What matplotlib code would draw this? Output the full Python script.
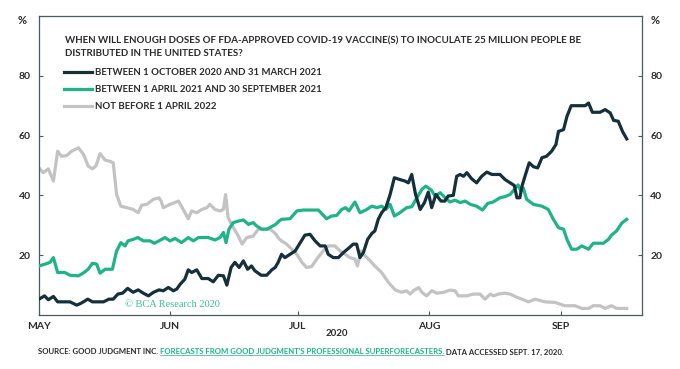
import matplotlib
matplotlib.use('Agg')
import matplotlib.pyplot as plt
import matplotlib.dates as mdates
from matplotlib.lines import Line2D
import numpy as np

# ---------------- data (day offsets since 1 May 2020, % probability) ----------------
dark_days = [0, 1.3, 2.2, 3.4, 4.4, 7.3, 8.9, 10.0, 11.5, 12.6, 15.2, 16.5, 17.5, 18.6, 19.7,
             20.9, 22.2, 23.4, 24.6, 25.8, 27.0, 28.3, 29.3, 30.5, 31.7, 32.5, 33.3, 34.4, 35.2,
             36.0, 37.2, 38.4, 39.9, 41.1, 42.3, 43.5, 44.3, 45.3, 46.2, 47.2, 48.2, 49.2, 50.1,
             50.9, 52.4, 53.7, 54.9, 55.7, 56.4, 57.2, 58.0, 59.2, 60.4, 61.6, 62.7, 63.9, 65.1,
             66.3, 67.5, 68.2, 69.4, 70.6, 71.8, 72.9, 74.1, 74.9, 75.7, 76.5, 77.5, 78.5, 79.2,
             80.0, 80.8, 81.8, 82.8, 83.8, 85.1, 86.3, 87.1, 87.9, 88.8, 89.9, 90.9, 91.8, 92.6,
             93.6, 94.8, 95.7, 96.5, 97.7, 98.5, 99.3, 100.1, 100.9, 102.0, 103.2, 104.4, 105.6,
             106.8, 108.7, 109.9, 111.1, 112.1, 112.7, 113.4, 113.9, 114.6, 115.6, 116.6, 117.6,
             118.6, 119.7, 120.9, 121.9, 122.5, 123.7, 124.5, 125.5, 128.8, 129.6, 130.5, 132.3,
             133.5, 134.7, 135.5, 136.6, 137.6, 138.6]
dark_vals = [5.3, 6.4, 5.1, 6.2, 4.4, 4.4, 3.3, 4.0, 5.3, 4.4, 4.4, 5.3, 5.3, 7.0, 7.3,
             8.9, 7.6, 8.4, 7.3, 6.4, 7.6, 8.4, 8.1, 9.2, 8.1, 8.7, 10.3, 12.0, 15.1,
             14.2, 15.1, 12.2, 12.2, 11.1, 13.3, 13.1, 10.0, 15.9, 17.6, 15.9, 18.1, 15.3, 16.4,
             14.8, 13.3, 13.3, 15.1, 15.9, 17.6, 20.3, 19.2, 20.3, 21.4, 24.2, 26.7, 27.0, 24.8,
             23.1, 23.1, 20.3, 19.2, 19.2, 20.9, 22.2, 23.7, 23.7, 19.2, 20.9, 25.3, 27.3, 28.1,
             32.0, 34.2, 35.9, 40.3, 45.9, 45.3, 44.8, 44.2, 47.0, 40.3, 35.3, 37.6, 41.1, 35.9,
             40.3, 38.1, 38.1, 39.8, 40.0, 46.4, 47.0, 46.4, 47.6, 45.6, 44.2, 46.4, 47.8,
             47.0, 47.0, 45.3, 44.2, 43.3, 39.2, 39.2, 43.1, 46.4, 50.9, 49.6, 49.2,
             52.6, 53.1, 54.8, 57.0, 61.4, 62.0, 66.4, 70.0, 70.0, 70.9, 67.8, 67.8,
             68.7, 67.6, 65.1, 64.8, 61.4, 58.9]

green_days = [0, 1.4, 2.6, 3.4, 4.4, 6.1, 7.3, 9.3, 10.4, 11.6, 12.6, 13.6, 14.4, 15.6, 17.3,
              18.3, 19.3, 20.3, 21.0, 22.2, 23.3, 24.6, 26.2, 27.2, 28.3, 29.7, 30.9, 32.1, 33.6,
              35.2, 36.4, 37.6, 39.9, 41.5, 42.7, 43.5, 44.1, 44.8, 45.8, 47.0, 48.2, 49.4, 50.5,
              51.3, 52.5, 53.7, 54.9, 55.8, 56.6, 57.2, 59.2, 60.8, 62.3, 65.9, 67.8, 69.0, 70.2,
              71.4, 72.3, 73.1, 74.5, 75.7, 77.3, 78.5, 79.7, 80.8, 81.8, 82.8, 83.8, 85.1, 86.7,
              87.9, 89.1, 90.3, 91.2, 92.5, 93.4, 94.6, 95.8, 96.9, 98.1, 99.3, 100.5, 101.7,
              103.2, 104.6, 105.8, 107.1, 108.7, 109.9, 111.1, 112.1, 113.0, 113.6, 114.2, 115.0,
              116.6, 118.6, 120.1, 121.3, 122.5, 123.7, 124.5, 125.6, 126.8, 128.0, 129.6, 130.7,
              133.1, 134.3, 135.0, 136.2, 137.4, 138.6]
green_vals = [16.4, 17.0, 17.6, 19.2, 14.2, 14.2, 13.3, 13.1, 14.0, 15.3, 17.3, 17.0, 14.0, 15.3, 15.3,
              21.4, 24.2, 23.1, 24.8, 25.3, 25.9, 24.8, 24.8, 24.0, 24.8, 25.9, 24.8, 25.6, 24.2,
              25.9, 24.8, 25.9, 25.9, 25.1, 25.9, 27.6, 24.2, 28.7, 30.9, 31.4, 31.8, 30.3, 30.9,
              29.8, 28.7, 28.7, 29.6, 30.3, 31.4, 32.0, 32.2, 34.8, 35.1, 35.1, 32.2, 33.1, 33.3,
              35.3, 35.9, 34.8, 37.8, 34.2, 35.3, 36.4, 35.9, 36.4, 35.3, 37.0, 33.1, 34.2, 35.9,
              36.2, 39.2, 42.0, 43.1, 41.8, 39.8, 40.9, 39.2, 37.8, 38.4, 37.6, 38.1, 37.0,
              36.4, 35.1, 37.3, 37.8, 39.2, 39.6, 40.3, 42.0, 43.5, 41.5, 42.5, 38.7,
              37.0, 36.4, 35.3, 32.0, 29.2, 28.7, 25.3, 22.0, 22.0, 23.1, 22.0, 24.0,
              24.0, 25.3, 26.7, 28.1, 30.7, 32.0]

gray_days = [0, 1.0, 2.2, 3.4, 4.4, 5.3, 6.5, 7.7, 9.3, 10.5, 11.6, 12.6, 13.4, 14.4, 15.6,
             16.7, 17.5, 18.3, 19.3, 20.7, 22.2, 23.4, 24.2, 25.4, 27.0, 28.3, 28.8, 29.3, 30.9,
             32.9, 34.0, 35.2, 36.0, 37.2, 38.4, 39.6, 40.3, 41.5, 42.7, 43.5, 44.0, 44.6, 45.6,
             47.0, 47.9, 49.0, 50.5, 51.7, 52.9, 54.5, 55.7, 56.6, 57.2, 58.4, 59.6, 60.8, 62.0,
             63.1, 64.3, 65.5, 67.0, 68.2, 69.8, 71.0, 72.2, 73.3, 74.5, 75.1, 75.9, 76.9, 78.1,
             79.2, 80.8, 82.4, 84.0, 85.5, 86.7, 87.5, 88.3, 89.5, 90.3, 91.4, 92.6, 93.8, 95.4,
             96.9, 98.1, 98.9, 100.9, 102.4, 104.0, 105.2, 106.4, 107.2, 108.3, 109.9, 111.1,
             112.7, 113.9, 115.4, 117.0, 119.3, 121.7, 124.0, 126.4, 128.0, 129.6, 130.7, 132.3,
             133.5, 135.0, 136.2, 138.6]
gray_vals = [49.2, 47.6, 48.9, 44.8, 54.8, 53.1, 53.3, 54.8, 55.9, 53.7, 49.8, 48.9, 49.8, 54.0, 51.8,
             51.4, 50.9, 40.3, 36.4, 35.9, 35.3, 34.2, 36.7, 37.0, 38.7, 39.2, 38.1, 35.9, 37.0,
             38.1, 35.3, 32.2, 34.8, 34.2, 35.3, 35.9, 37.0, 35.3, 34.8, 35.3, 40.3, 32.6, 29.8,
             26.4, 23.7, 25.9, 26.4, 28.7, 28.7, 28.7, 27.3, 25.5, 24.8, 23.7, 22.0, 20.3, 17.6,
             15.9, 16.2, 18.7, 21.4, 23.1, 23.1, 21.4, 20.3, 19.2, 18.7, 16.4, 21.4, 19.8, 18.1,
             16.4, 14.2, 10.9, 8.4, 7.6, 8.1, 7.0, 8.1, 9.2, 7.6, 6.4, 8.1, 7.3, 7.6,
             8.3, 8.1, 6.4, 6.4, 7.0, 7.0, 5.3, 7.0, 6.4, 7.0, 7.3, 7.0,
             5.9, 5.3, 4.4, 5.3, 4.4, 4.2, 3.1, 3.1, 2.2, 2.2, 3.1, 3.1,
             2.2, 3.1, 2.2, 2.2]

series_labels = ["BETWEEN 1 OCTOBER 2020 AND 31 MARCH 2021",
                 "BETWEEN 1 APRIL 2021 AND 30 SEPTEMBER 2021",
                 "NOT BEFORE 1 APRIL 2022"]
month_ticks = ['2020-05-01', '2020-06-01', '2020-07-01', '2020-08-01', '2020-09-01']
month_labels = ['MAY', 'JUN', 'JUL', 'AUG', 'SEP']
y_ticks = [20, 40, 60, 80]
title = ("WHEN WILL ENOUGH DOSES OF FDA-APPROVED COVID-19 VACCINE(S) TO INOCULATE 25 MILLION PEOPLE BE\n"
         "DISTRIBUTED IN THE UNITED STATES?")

# ---------------- style ----------------
DARK = '#15303a'
GREEN = '#1fb388'
GRAY = '#c3c3c3'
TXT = '#2b2b2b'
SPINE = '#4a5a5e'
FONT = 'Lato'

plt.rcParams['font.family'] = [FONT, 'DejaVu Sans']

base = mdates.date2num(np.datetime64('2020-05-01'))

fig = plt.figure(figsize=(6.8, 3.69), dpi=100)
ax = fig.add_axes([39 / 680, 1 - 315 / 369, (642 - 39) / 680, (315 - 16) / 369])

lw = 2.3
ax.plot(base + np.array(gray_days), gray_vals, color=GRAY, lw=lw, label=series_labels[2], zorder=2)
ax.plot(base + np.array(green_days), green_vals, color=GREEN, lw=lw, label=series_labels[1], zorder=3)
ax.plot(base + np.array(dark_days), dark_vals, color=DARK, lw=lw, label=series_labels[0], zorder=4)

ax.set_xlim(base, base + 142.2)
ax.set_ylim(0, 100)

ax.set_xticks([mdates.date2num(np.datetime64(d)) for d in month_ticks])
ax.set_xticklabels(month_labels)
ax.set_yticks(y_ticks)
ax.set_yticklabels([str(v) for v in y_ticks])

for s in ax.spines.values():
    s.set_color(SPINE)
    s.set_linewidth(0.9)

ax.tick_params(axis='both', direction='in', length=3, width=0.8, color=SPINE,
               labelsize=7.5, labelcolor=TXT)
ax.tick_params(axis='y', left=True, right=True, labelleft=True, labelright=True, pad=6)
ax.tick_params(axis='x', pad=5)
for lab in ax.get_xticklabels() + ax.get_yticklabels():
    lab.set_fontweight('bold')
for t in ax.yaxis.get_major_ticks():
    t.label2.set_fontweight('bold')

# title inside the plot
ax.text(0.043, 0.932, title, transform=ax.transAxes, ha='left', va='top',
        fontsize=7.0, fontweight='bold', color=TXT, linespacing=1.5)

# legend (order: dark, green, gray)
h, l = ax.get_legend_handles_labels()
order = [2, 1, 0]
leg = ax.legend([h[i] for i in order], [l[i] for i in order], loc='upper left',
                bbox_to_anchor=(0.042, 0.826), frameon=False, fontsize=6.9,
                handlelength=2.9, handletextpad=0.3, labelspacing=0.85, borderpad=0,
                borderaxespad=0)
for t in leg.get_texts():
    t.set_fontweight('bold')
    t.set_color(TXT)

# watermark
ax.text(0.143, 0.035, '\u00a9 BCA Research 2020', transform=ax.transAxes, ha='left', va='center',
        fontsize=7.5, color='#3fbf95', family=['Liberation Serif'], zorder=5)

# % labels
fig.text(22 / 680, 1 - 20 / 369, '%', ha='center', va='center', fontsize=8, fontweight='bold', color=TXT)
fig.text(655 / 680, 1 - 20 / 369, '%', ha='center', va='center', fontsize=8, fontweight='bold', color=TXT)

# year label
fig.text(337 / 680, 1 - 333 / 369, '2020', ha='center', va='center', fontsize=7, fontweight='bold', color=TXT)

# source line
src_fs = 5.55
t1 = fig.text(38 / 680, 1 - 352 / 369, 'SOURCE: GOOD JUDGMENT INC. ', ha='left', va='center',
              fontsize=src_fs, fontweight='bold', color=TXT)
t2 = fig.text(0, 0, "FORECASTS FROM GOOD JUDGMENT'S PROFESSIONAL SUPERFORECASTERS.", fontsize=src_fs,
              fontweight='bold', color=GREEN, ha='left', va='bottom')
t3 = fig.text(0, 0, ' DATA ACCESSED SEPT. 17, 2020.', fontsize=src_fs, fontweight='bold', color=TXT,
              ha='left', va='bottom')
fig.canvas.draw()
r = fig.canvas.get_renderer()
b1 = t1.get_window_extent(r)
W, H = fig.bbox.width, fig.bbox.height
t2.set_position((b1.x1 / W, b1.y0 / H))
fig.canvas.draw()
b2 = t2.get_window_extent(r)
t3.set_position((b2.x1 / W, b1.y0 / H))
fig.add_artist(Line2D([b2.x0 / W, b2.x1 / W], [(b2.y0 + 0.5) / H, (b2.y0 + 0.5) / H],
                      transform=fig.transFigure, color=GREEN, lw=0.5))

fig.savefig('out.png', dpi=100)
